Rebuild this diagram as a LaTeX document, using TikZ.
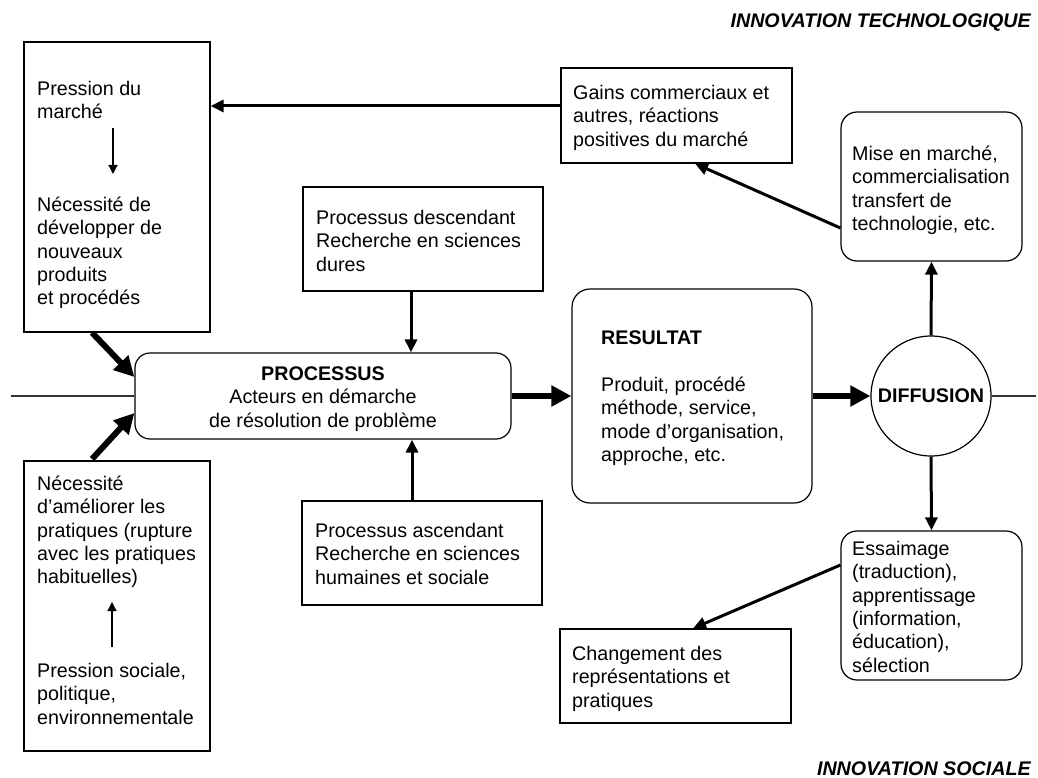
\documentclass[tikz,border=0pt]{standalone}
\usepackage{fontspec}
\setmainfont{Liberation Sans}
\usetikzlibrary{arrows.meta}
\begin{document}
\begin{tikzpicture}[x=1pt,y=-1pt,
  box/.style={draw=black, line width=1.2pt, rectangle, inner sep=0pt},
  rbox/.style={box, rounded corners=16pt},
  txt/.style={anchor=north west, align=left, inner sep=0pt, font=\fontsize{19.7}{23.3}\selectfont},
  thin/.style={line width=1.3pt, -{Triangle[length=9pt,width=9pt]}},
  med/.style={line width=3pt, -{Triangle[length=13pt,width=12pt]}},
  thick/.style={line width=6pt, -{Triangle[length=20pt,width=20pt]}},
  hline/.style={line width=1.1pt, black!80},
  lab/.style={inner sep=0pt, font=\fontsize{19.7}{23.3}\selectfont\bfseries\itshape}
]
\useasboundingbox (0,0) rectangle (1038,778);

% boxes
\node[box, minimum width=186pt, minimum height=290pt] (ltop) at (117,187) {};
\node[box, minimum width=186pt, minimum height=290pt] (lbot) at (117,606) {};
\node[box, minimum width=240pt, minimum height=104pt] (desc) at (423,239) {};
\node[box, minimum width=240pt, minimum height=104pt] (asc) at (422,553) {};
\node[rbox, rounded corners=15pt, minimum width=376pt, minimum height=86pt] (proc) at (323,396) {};
\node[rbox, rounded corners=18pt, minimum width=240pt, minimum height=214pt] (res) at (692,396) {};
\node[draw=black, line width=1.2pt, circle, minimum size=120pt, inner sep=0pt] (diff) at (931,396) {};
\node[rbox, minimum width=181pt, minimum height=149pt] (mise) at (931.5,186.5) {};
\node[box, minimum width=231pt, minimum height=95pt] (gains) at (676.5,115.5) {};
\node[rbox, minimum width=181pt, minimum height=149pt] (ess) at (931.5,605.5) {};
\node[box, minimum width=231pt, minimum height=94pt] (chg) at (675.5,676) {};

% texts
\node[txt] (t1) at (37,79) {\strut Pression du\\marché};
\node[txt] (t2) at (37,195) {\strut Nécessité de\\développer de\\nouveaux\\produits\\et procédés};
\node[txt] (t3) at (37,474) {\strut Nécessité\\d’améliorer les\\pratiques (rupture\\avec les pratiques\\habituelles)};
\node[txt] (t4) at (37,661) {\strut Pression sociale,\\politique,\\environnementale};
\node[txt] (t5) at (316,208) {\strut Processus descendant\\Recherche en sciences\\dures};
\node[txt] (t6) at (315,521) {\strut Processus ascendant\\Recherche en sciences\\humaines et sociale};
\node[txt, anchor=north, align=center] (t7) at (323,364) {\strut\textbf{PROCESSUS}\\Acteurs en démarche\\de résolution de problème};
\node[txt] (t8) at (601,328) {\strut\textbf{RESULTAT}};
\node[txt] (t9) at (601,375) {\strut Produit, procédé\\méthode, service,\\mode d’organisation,\\approche, etc.};
\node[txt] (t10) at (573,83) {\strut Gains commerciaux et\\autres, réactions\\positives du marché};
\node[txt] (t11) at (852,144) {\strut Mise en marché,\\commercialisation\\transfert de\\technologie, etc.};
\node[txt] (t12) at (852,539) {\strut Essaimage\\(traduction),\\apprentissage\\(information,\\éducation),\\sélection};
\node[txt] (t13) at (572,644) {\strut Changement des\\représentations et\\pratiques};
\node[inner sep=0pt, font=\fontsize{19.7}{23.3}\selectfont\bfseries] (t14) at (diff.center) {DIFFUSION};
\node[lab, anchor=east] (l1) at (1031,23) {INNOVATION TECHNOLOGIQUE};
\node[lab, anchor=east] (l2) at (1031,768.5) {INNOVATION SOCIALE};

% coordinates
\coordinate (a1s) at (113,128);
\coordinate (a1e) at (113,174);
\coordinate (a2s) at (112,647);
\coordinate (a2e) at (112,602);
\coordinate (hl) at (11,396);
\coordinate (hr) at (1036,396);
\coordinate (g1) at ([yshift=9.5pt]gains.west);
\coordinate (d1) at ([xshift=-12pt]desc.south);
\coordinate (s1) at ([xshift=-10pt]asc.north);
\coordinate (k1) at ([xshift=-25pt]ltop.south);
\coordinate (k2) at ([yshift=19pt]proc.west);
\coordinate (k3) at (92,459);
\coordinate (k4) at ([yshift=-17pt]proc.west);
\coordinate (m1) at ([yshift=-41.5pt]mise.west);
\coordinate (m2) at ([xshift=18.5pt]gains.south);
\coordinate (e1) at ([yshift=40.5pt]ess.west);
\coordinate (e2) at ([xshift=17.5pt]chg.north);

% connectors
\draw[hline] (hl) -- (proc.west);
\draw[hline] (diff.east) -- (hr);
\draw[thin] (a1s) -- (a1e);
\draw[thin] (a2s) -- (a2e);
\draw[med] (g1) -- (g1 -| ltop.east);
\draw[med] (d1) -- (d1 |- proc.north);
\draw[med] (s1) -- (s1 |- proc.south);
\draw[thick] (k1) -- (k2);
\draw[thick] (k3) -- (k4);
\draw[thick] (proc.east) -- (res.west);
\draw[thick] (res.east) -- (diff.west);
\draw[med] (diff.north) -- (mise.south);
\draw[med] (diff.south) -- (ess.north);
\draw[med] (m1) -- (m2);
\draw[med] (e1) -- (e2);
\end{tikzpicture}
\end{document}
